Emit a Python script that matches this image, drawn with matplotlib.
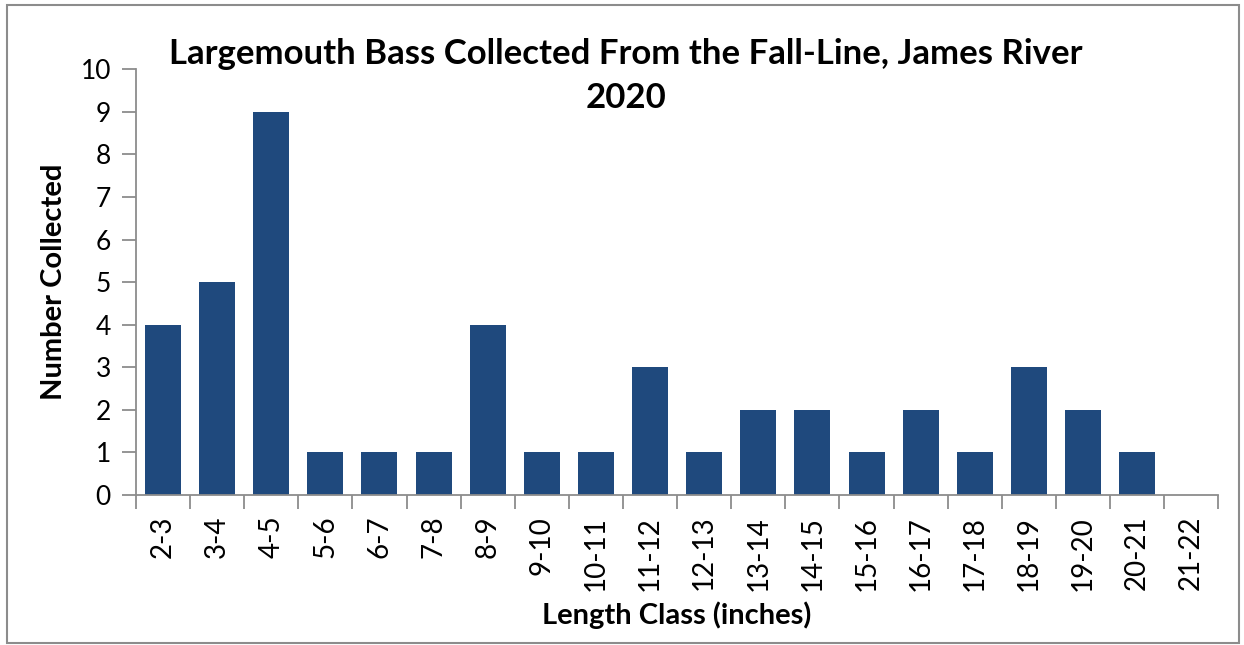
import matplotlib
matplotlib.use("Agg")
import matplotlib.pyplot as plt
import matplotlib.patches as patches
import numpy as np

# data
length_classes = ["2-3", "3-4", "4-5", "5-6", "6-7", "7-8", "8-9", "9-10", "10-11",
                  "11-12", "12-13", "13-14", "14-15", "15-16", "16-17", "17-18",
                  "18-19", "19-20", "20-21", "21-22"]
counts = [4, 5, 9, 1, 1, 1, 4, 1, 1, 3, 1, 2, 2, 1, 2, 1, 3, 2, 1, 0]
y_ticks = list(range(0, 11))

plt.rcParams["font.family"] = ["Lato", "DejaVu Sans"]

fig = plt.figure(figsize=(12.44, 6.45), dpi=100)
ax = fig.add_axes([0.1093, 0.2326, 0.870, 0.660])

x = np.arange(len(length_classes))
ax.bar(x, counts, width=0.665, color="#1F497D", zorder=2)

ax.set_xlim(-0.5, len(length_classes) - 0.5)
ax.set_ylim(0, 10)
ax.set_yticks(y_ticks)
ax.set_yticklabels([str(v) for v in y_ticks], fontsize=19)

# category labels at centres, tick marks at boundaries
ax.set_xticks(x)
ax.set_xticklabels(length_classes, rotation=90, fontsize=20)
ax.tick_params(axis="x", which="major", length=0, pad=15)
ax.set_xticks(np.arange(-0.5, len(length_classes)), minor=True)
ax.tick_params(axis="x", which="minor", length=10, width=1.3, color="#8c8c8c")
ax.tick_params(axis="y", which="major", length=10, width=1.3, color="#8c8c8c", pad=8)

for side in ["top", "right"]:
    ax.spines[side].set_visible(False)
for side in ["left", "bottom"]:
    ax.spines[side].set_color("#8c8c8c")
    ax.spines[side].set_linewidth(1.3)

fig.text(0.503, 0.882, "Largemouth Bass Collected From the Fall-Line, James River\n2020",
         ha="center", va="center", fontsize=25, fontweight="bold", linespacing=1.45)
ax.set_ylabel("Number Collected", fontsize=21, fontweight="bold", labelpad=10)
ax.set_xlabel("Length Class (inches)", fontsize=21, fontweight="bold", labelpad=8)

# outer chart border
fig.patches.append(patches.Rectangle((0.0056, 0.003), 0.99, 0.99, transform=fig.transFigure,
                                     fill=False, edgecolor="#8c8c8c", linewidth=1.5))

fig.savefig("out.png", dpi=100)
